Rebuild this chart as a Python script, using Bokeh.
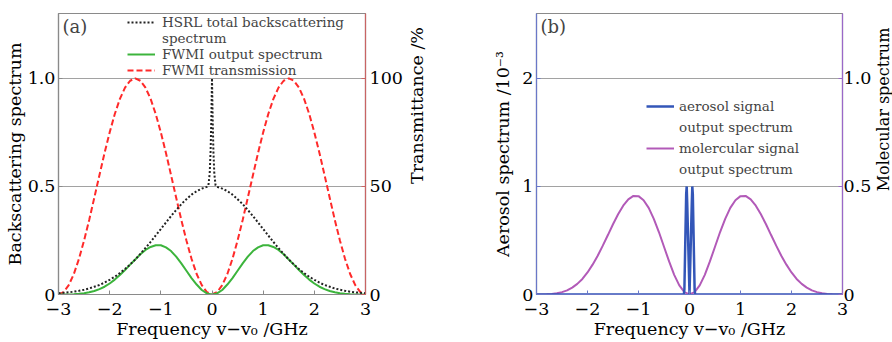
import math
from bokeh.plotting import figure
from bokeh.models import (Range1d, LinearAxis, FixedTicker, CustomJSTickFormatter,
                          Legend, LegendItem, Label)
from bokeh.layouts import row
from bokeh.embed import file_html
from bokeh.resources import INLINE

# ---------------- data ----------------
freq = [-3.0, -2.9, -2.8, -2.7, -2.6, -2.5, -2.4, -2.3, -2.2, -2.1,
        -2.0, -1.9, -1.8, -1.7, -1.6, -1.5, -1.4, -1.3, -1.2, -1.1,
        -1.0, -0.9, -0.8, -0.7, -0.6, -0.5, -0.4, -0.3, -0.2, -0.1,
        0.0, 0.1, 0.2, 0.3, 0.4, 0.5, 0.6, 0.7, 0.8, 0.9,
        1.0, 1.1, 1.2, 1.3, 1.4, 1.5, 1.6, 1.7, 1.8, 1.9,
        2.0, 2.1, 2.2, 2.3, 2.4, 2.5, 2.6, 2.7, 2.8, 2.9, 3.0]

# FWMI transmission (%)
fwmi_trans = [0, 1.1, 4.3, 9.5, 16.5, 25, 34.5, 44.8, 55.2, 65.5,
              75, 83.5, 90.5, 95.7, 98.9, 100, 98.9, 95.7, 90.5, 83.5,
              75, 65.5, 55.2, 44.8, 34.5, 25, 16.5, 9.5, 4.3, 1.1,
              0, 1.1, 4.3, 9.5, 16.5, 25, 34.5, 44.8, 55.2, 65.5,
              75, 83.5, 90.5, 95.7, 98.9, 100, 98.9, 95.7, 90.5, 83.5,
              75, 65.5, 55.2, 44.8, 34.5, 25, 16.5, 9.5, 4.3, 1.1, 0]

# FWMI output spectrum
fwmi_output = [0, 0.0001, 0.0004, 0.001, 0.003, 0.006, 0.010, 0.016, 0.025, 0.036,
               0.051, 0.069, 0.090, 0.113, 0.138, 0.162, 0.186, 0.206, 0.220, 0.228,
               0.228, 0.218, 0.201, 0.175, 0.144, 0.110, 0.076, 0.046, 0.021, 0.005,
               0, 0.005, 0.021, 0.046, 0.076, 0.110, 0.144, 0.175, 0.201, 0.218,
               0.228, 0.228, 0.220, 0.206, 0.186, 0.162, 0.138, 0.113, 0.090, 0.069,
               0.051, 0.036, 0.025, 0.016, 0.010, 0.006, 0.003, 0.001, 0.0004, 0.0001, 0]

# HSRL total backscattering spectrum (molecular + narrow aerosol peak)
hsrl_freq = [-3.0, -2.9, -2.8, -2.7, -2.6, -2.5, -2.4, -2.3, -2.2, -2.1,
             -2.0, -1.9, -1.8, -1.7, -1.6, -1.5, -1.4, -1.3, -1.2, -1.1,
             -1.0, -0.9, -0.8, -0.7, -0.6, -0.5, -0.4, -0.3, -0.2, -0.1,
             -0.07, -0.045, -0.028, -0.014, 0.0, 0.014, 0.028, 0.045, 0.07,
             0.1, 0.2, 0.3, 0.4, 0.5, 0.6, 0.7, 0.8, 0.9,
             1.0, 1.1, 1.2, 1.3, 1.4, 1.5, 1.6, 1.7, 1.8, 1.9,
             2.0, 2.1, 2.2, 2.3, 2.4, 2.5, 2.6, 2.7, 2.8, 2.9, 3.0]
hsrl_total = [0.006, 0.008, 0.010, 0.013, 0.017, 0.022, 0.028, 0.036, 0.044, 0.055,
              0.068, 0.082, 0.099, 0.118, 0.139, 0.162, 0.188, 0.215, 0.243, 0.273,
              0.303, 0.333, 0.363, 0.391, 0.418, 0.441, 0.462, 0.478, 0.490, 0.498,
              0.505, 0.56, 0.66, 0.80, 1.0, 0.80, 0.66, 0.56, 0.505,
              0.498, 0.490, 0.478, 0.462, 0.441, 0.418, 0.391, 0.363, 0.333,
              0.303, 0.273, 0.243, 0.215, 0.188, 0.162, 0.139, 0.118, 0.099, 0.082,
              0.068, 0.055, 0.044, 0.036, 0.028, 0.022, 0.017, 0.013, 0.010, 0.008, 0.006]

# (b) molecular signal output spectrum (right axis)
mol_output = [0, 0.0002, 0.001, 0.002, 0.006, 0.011, 0.019, 0.032, 0.049, 0.072,
              0.102, 0.138, 0.179, 0.226, 0.275, 0.325, 0.371, 0.411, 0.440, 0.456,
              0.455, 0.436, 0.401, 0.350, 0.289, 0.221, 0.153, 0.091, 0.042, 0.011,
              0, 0.011, 0.042, 0.091, 0.153, 0.221, 0.289, 0.350, 0.401, 0.436,
              0.455, 0.456, 0.440, 0.411, 0.371, 0.325, 0.275, 0.226, 0.179, 0.138,
              0.102, 0.072, 0.049, 0.032, 0.019, 0.011, 0.006, 0.002, 0.001, 0.0002, 0]

# (b) aerosol signal output spectrum (left axis, x1e-3)
aero_freq = [-3.0, -0.11, -0.1, -0.065, -0.055, -0.045, 0.0, 0.045, 0.055, 0.065, 0.1, 0.11, 3.0]
aero_output = [0, 0, 0.05, 0.93, 1.0, 0.85, 0, 0.85, 1.0, 0.93, 0.05, 0, 0]

x_ticks = [-3, -2, -1, 0, 1, 2, 3]

# ---------------- style ----------------
FONT = "DejaVu Serif"
TICK_FS = "17.5px"
LAB_FS = "17.5px"
LEG_FS = "13.5px"
FIG_H = 342
TOP = 13
BOTTOM = 48
FRAME_H = FIG_H - TOP - BOTTOM
FRAME_W = 309

x_fmt = CustomJSTickFormatter(code="return tick < 0 ? '\u2212' + Math.abs(tick) : '' + tick;")
y_fmt1 = CustomJSTickFormatter(code="return tick == 0 ? '0' : tick.toFixed(1);")
y_fmt0 = CustomJSTickFormatter(code="return '' + Math.round(tick);")


def style_axis(ax, color, label, ticks, fmt, tick_standoff=3, label_standoff=0):
    ax.ticker = FixedTicker(ticks=ticks)
    ax.formatter = fmt
    ax.axis_label = label
    ax.axis_label_text_font = FONT
    ax.axis_label_text_font_size = LAB_FS
    ax.axis_label_text_font_style = "normal"
    ax.axis_label_text_color = "black"
    ax.axis_label_standoff = label_standoff
    ax.major_label_text_font = FONT
    ax.major_label_text_font_size = TICK_FS
    ax.major_label_text_color = "black"
    ax.major_label_standoff = tick_standoff
    ax.axis_line_color = color
    ax.axis_line_width = 1.2
    ax.major_tick_line_color = color
    ax.major_tick_in = 4
    ax.major_tick_out = 0
    ax.minor_tick_line_color = None


def label_strip(width, text, cx, cy_from_top, font_size):
    # narrow strip that carries a right-hand axis title reading bottom-to-top
    s = figure(width=width, height=FIG_H, output_backend="svg", toolbar_location=None,
               x_range=Range1d(0, 1), y_range=Range1d(0, 1),
               x_axis_location=None, y_axis_location=None,
               min_border=0, min_border_left=0, min_border_right=0,
               min_border_top=0, min_border_bottom=0,
               background_fill_color="white", border_fill_color="white")
    s.outline_line_color = None
    s.grid.visible = False
    s.add_layout(Label(x=cx, y=FIG_H - cy_from_top, x_units="screen", y_units="screen",
                       text=text, angle=math.pi / 2, text_align="center",
                       text_baseline="middle", text_font=FONT, text_font_size=font_size,
                       text_color="black"))
    return s


def make_fig(width, left, right, y_end):
    p = figure(width=width, height=FIG_H, output_backend="svg",
               toolbar_location=None, x_range=Range1d(-3, 3), y_range=Range1d(0, y_end),
               min_border_left=left, min_border_right=right, min_border_top=TOP,
               min_border_bottom=BOTTOM, background_fill_color="white",
               border_fill_color="white")
    p.outline_line_color = "#8a8a8a"
    p.outline_line_width = 1.2
    p.xgrid.visible = False
    p.ygrid.grid_line_color = "#444444"
    p.ygrid.grid_line_dash = "1 1"
    p.ygrid.grid_line_width = 1
    return p


# ---------------- panel (a) ----------------
A_LEFT, A_RIGHT = 58, 38
pa = make_fig(A_LEFT + FRAME_W + A_RIGHT, A_LEFT, A_RIGHT, 1.3)
pa.extra_y_ranges = {"trans": Range1d(0, 130)}
style_axis(pa.xaxis[0], "#8a8a8a", "Frequency v\u2212v\u2080 /GHz", x_ticks, x_fmt, 8, 1)
style_axis(pa.yaxis[0], "#8a8a8a", "Backscattering spectrum", [0, 0.5, 1.0], y_fmt1)
ax_r = LinearAxis(y_range_name="trans")
style_axis(ax_r, "#c86464", None, [0, 50, 100], y_fmt0, 4, 0)
pa.add_layout(ax_r, "right")

r_red = pa.line(freq, fwmi_trans, y_range_name="trans", line_color="#ff2a2a",
                line_width=2, line_dash="6 3")
r_green = pa.line(freq, fwmi_output, line_color="#3cb43c", line_width=2)
r_dot = pa.line(hsrl_freq, hsrl_total, line_color="#222222", line_width=2, line_dash="2 2")

leg_a = Legend(items=[LegendItem(label="HSRL total backscattering", renderers=[r_dot]),
                      LegendItem(label="spectrum", renderers=[]),
                      LegendItem(label="FWMI output spectrum", renderers=[r_green]),
                      LegendItem(label="FWMI transmission", renderers=[r_red])],
               location=(69, FRAME_H - 1 - 64), padding=0, spacing=0, margin=0,
               glyph_width=28, glyph_height=16, label_height=16, label_standoff=7,
               label_text_font=FONT, label_text_font_size=LEG_FS,
               background_fill_alpha=0, border_line_color=None)
pa.add_layout(leg_a)
pa.add_layout(Label(x=4, y=FRAME_H - 2, x_units="screen", y_units="screen", text="(a)",
                    text_font=FONT, text_font_size="18px", text_baseline="top"))

STRIP_A = 28
strip_a = label_strip(STRIP_A, "Transmittance /%", 11, 153, LAB_FS)

# ---------------- panel (b) ----------------
B_LEFT, B_RIGHT = 103, 29
pb = make_fig(B_LEFT + FRAME_W + B_RIGHT, B_LEFT, B_RIGHT, 2.6)
pb.extra_y_ranges = {"mol": Range1d(0, 1.3)}
style_axis(pb.xaxis[0], "#6a78c8", "Frequency v\u2212v\u2080 /GHz", x_ticks, x_fmt, 8, 1)
style_axis(pb.yaxis[0], "#6a78c8", "Aerosol spectrum /10\u207b\u00b3", [0, 1, 2], y_fmt0, 3, 6)
ax_rb = LinearAxis(y_range_name="mol")
style_axis(ax_rb, "#9a68c8", None, [0, 0.5, 1.0], y_fmt1, 1, 0)
pb.add_layout(ax_rb, "right")

r_mol = pb.line(freq, mol_output, y_range_name="mol", line_color="#b25ab8", line_width=2)
r_aer = pb.line(aero_freq, aero_output, line_color="#3356b8", line_width=2.5)

leg_b = Legend(items=[LegendItem(label="aerosol signal", renderers=[r_aer]),
                      LegendItem(label="output spectrum", renderers=[]),
                      LegendItem(label="molercular signal", renderers=[r_mol]),
                      LegendItem(label="output spectrum", renderers=[])],
               location=(110, FRAME_H - 84 - 80), padding=0, spacing=5, margin=0,
               glyph_width=28, glyph_height=16, label_height=16, label_standoff=5,
               label_text_font=FONT, label_text_font_size=LEG_FS,
               background_fill_alpha=0, border_line_color=None)
pb.add_layout(leg_b)
pb.add_layout(Label(x=4, y=FRAME_H - 2, x_units="screen", y_units="screen", text="(b)",
                    text_font=FONT, text_font_size="18px", text_baseline="top"))

used = (A_LEFT + FRAME_W + A_RIGHT) + STRIP_A + (B_LEFT + FRAME_W + B_RIGHT)
strip_w = 892 - used
strip_b = label_strip(strip_w, "Molecular spectrum", strip_w / 2, 157, "16px")

layout = row(pa, strip_a, pb, strip_b, spacing=0)
open("out.html", "w").write(file_html(layout, INLINE))
